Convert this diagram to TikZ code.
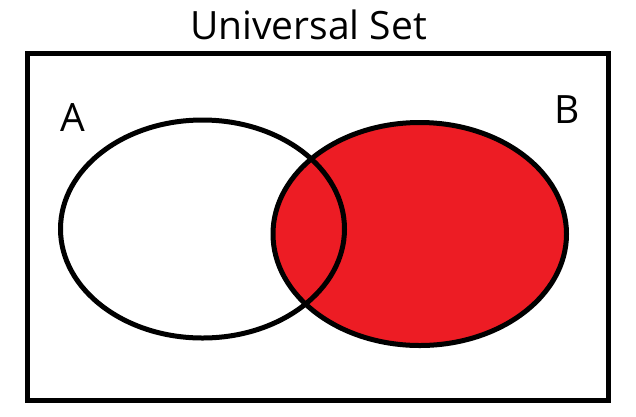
\documentclass[tikz,border=0pt]{standalone}
\usepackage{fontspec}
\setmainfont{Open Sans}
\definecolor{vennred}{RGB}{237,28,36}
\begin{document}
\begin{tikzpicture}[x=1pt,y=-1pt,
  outline/.style={line width=5pt,draw=black},
  lbl/.style={inner sep=0pt,anchor=base,font=\fontsize{39}{42}\selectfont}]
\useasboundingbox (0,0) rectangle (636,416);
\draw[outline] (27,53) rectangle (608.5,400.5);
\path[outline,fill=vennred] (419.75,234) ellipse [x radius=146.75, y radius=111.5];
\path[outline] (202.5,229) ellipse [x radius=142, y radius=109];
\node[lbl] (title) at (308.5,39) {Universal Set};
\node[lbl] (la) at (72.5,131.7) {A};
\node[lbl] (lb) at (567,123) {B};
\end{tikzpicture}
\end{document}
